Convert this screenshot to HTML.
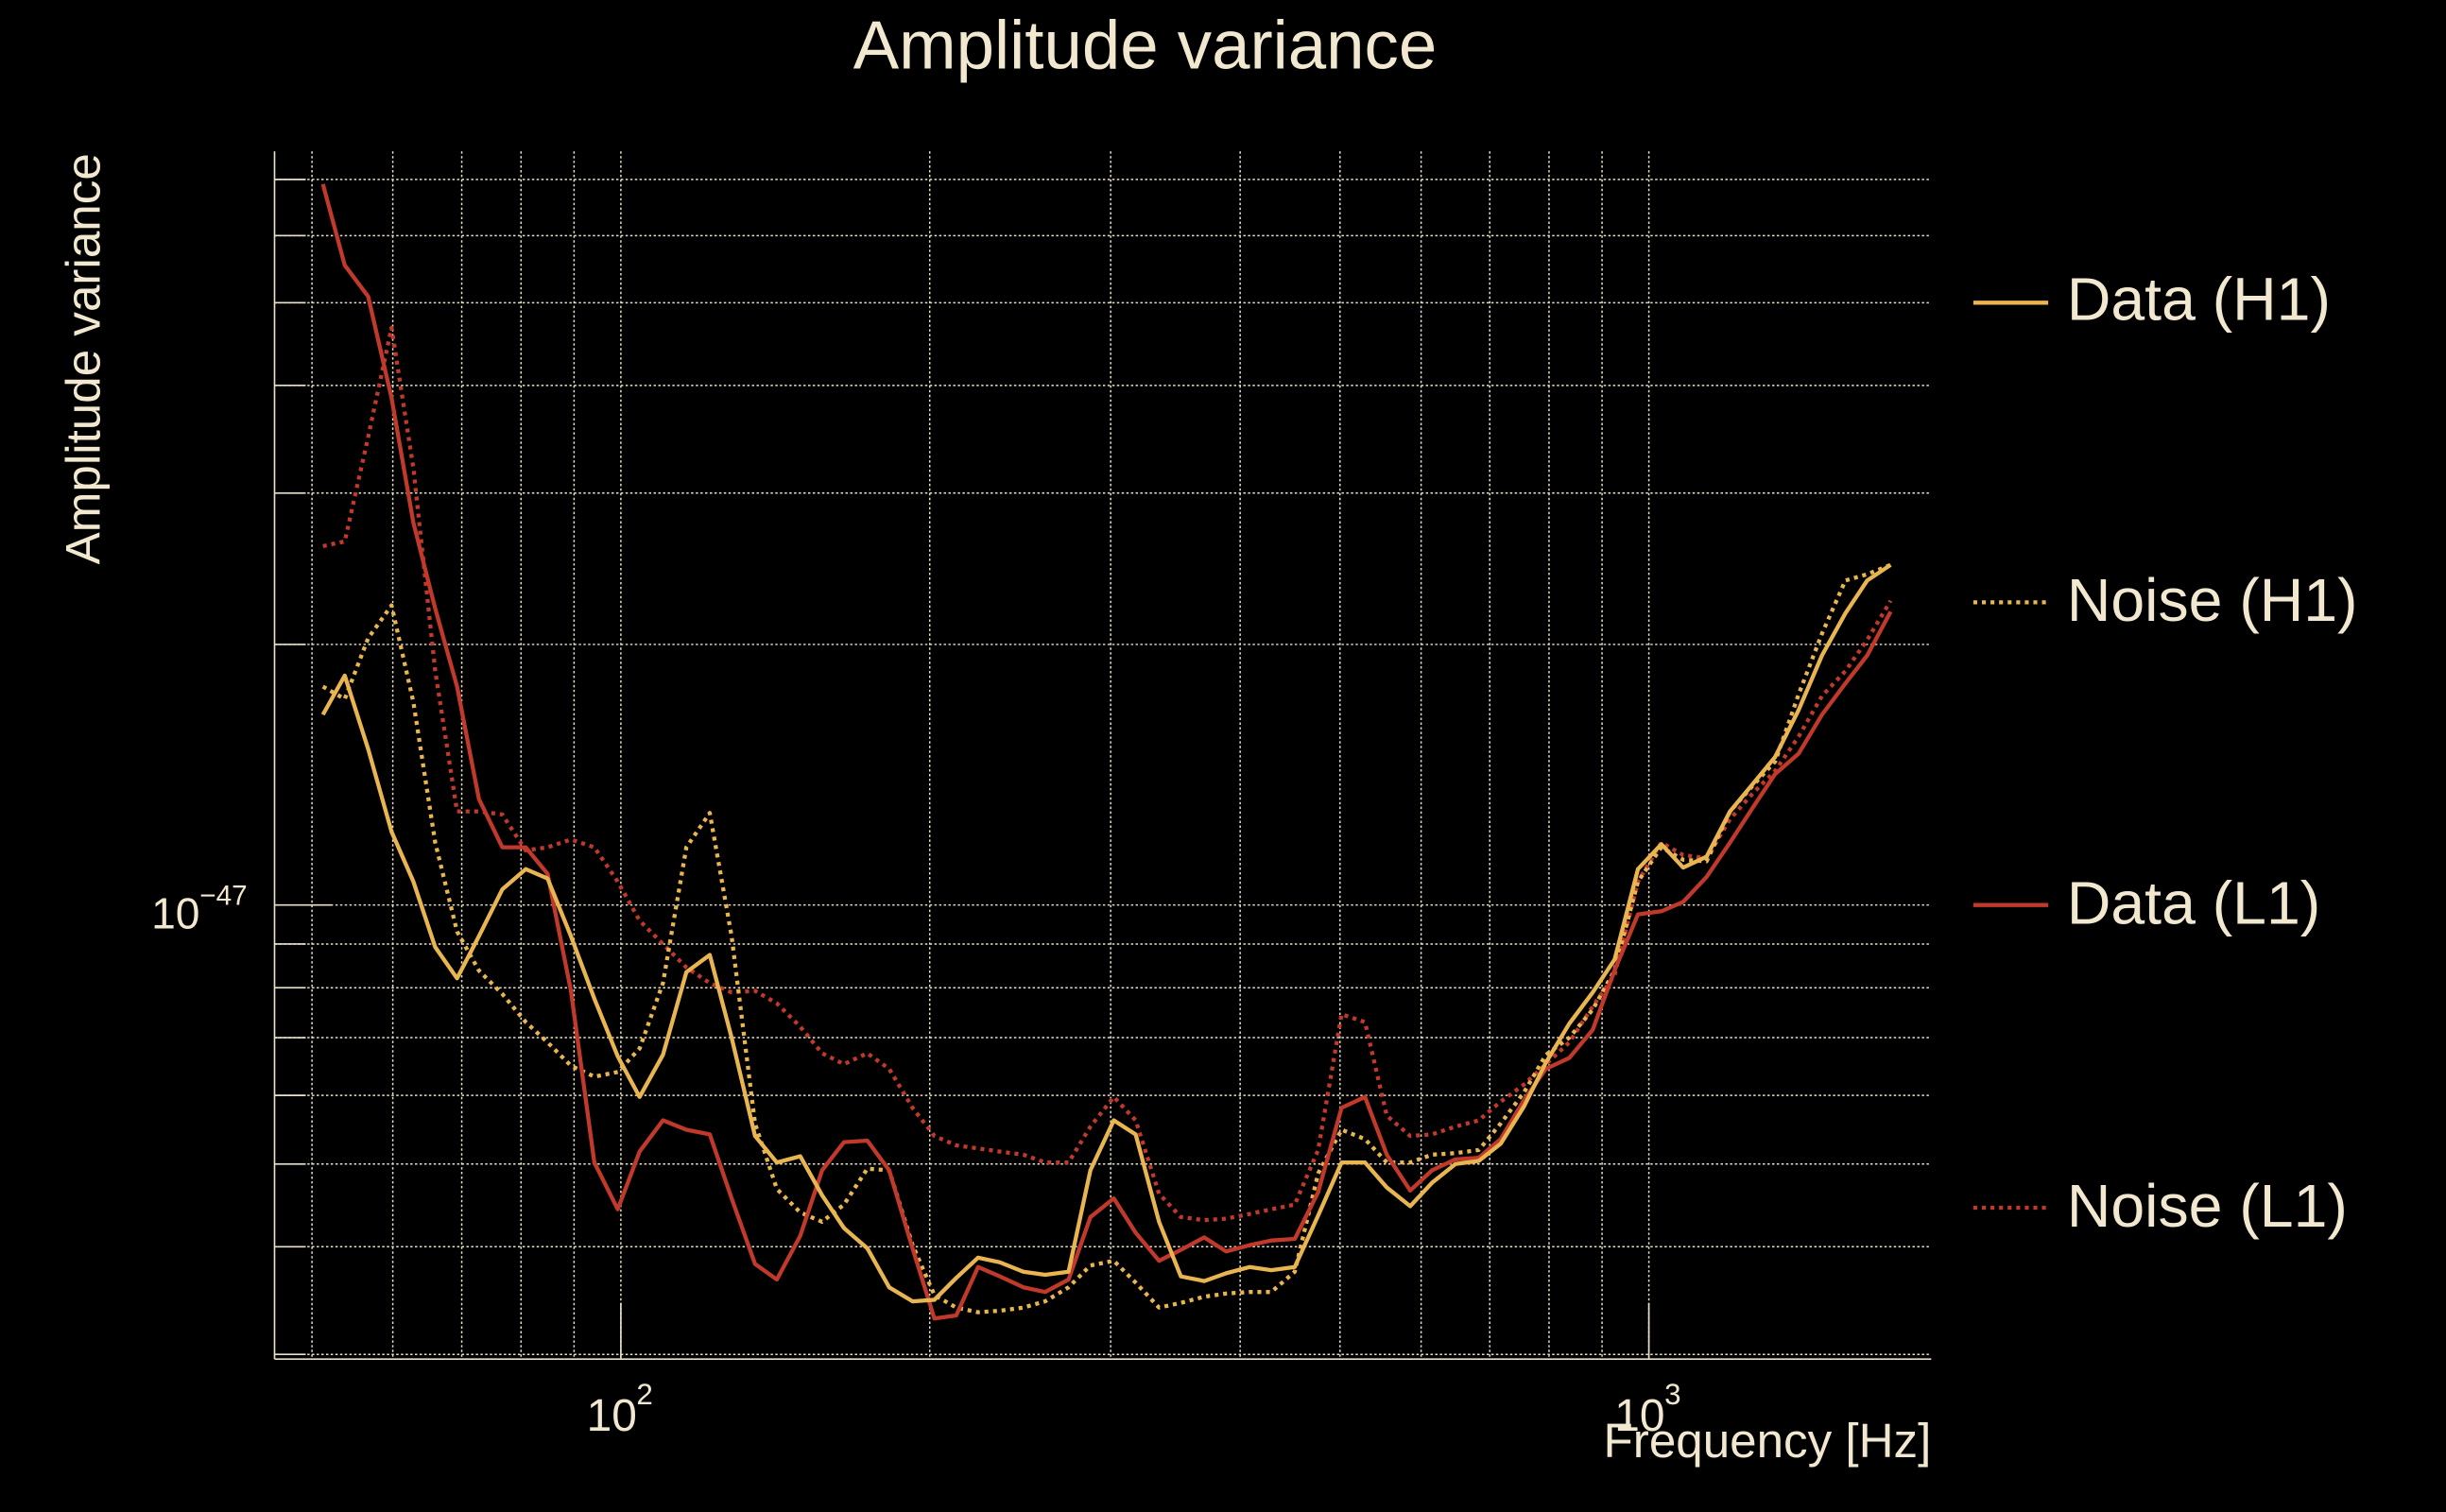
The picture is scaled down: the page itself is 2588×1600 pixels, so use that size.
<!DOCTYPE html>
<html><head><meta charset="utf-8"><style>
html,body{margin:0;padding:0;background:#000;}
svg{display:block;}
text{font-family:"Liberation Sans",sans-serif;fill:#f2e8cf;}
</style></head><body>
<svg width="2588" height="1600" viewBox="0 0 1568 969" preserveAspectRatio="none" xmlns="http://www.w3.org/2000/svg">
<rect width="1568" height="969" fill="#000"/>
<g stroke="#e8e0c8" stroke-width="0.9" stroke-dasharray="1.5,1.5" fill="none">
<line x1="200" y1="97" x2="200" y2="871"/><line x1="251.8" y1="97" x2="251.8" y2="871"/>
<line x1="296" y1="97" x2="296" y2="871"/><line x1="334" y1="97" x2="334" y2="871"/>
<line x1="368" y1="97" x2="368" y2="871"/><line x1="398" y1="97" x2="398" y2="871"/>
<line x1="596" y1="97" x2="596" y2="871"/><line x1="712" y1="97" x2="712" y2="871"/>
<line x1="795" y1="97" x2="795" y2="871"/><line x1="859" y1="97" x2="859" y2="871"/>
<line x1="911" y1="97" x2="911" y2="871"/><line x1="955" y1="97" x2="955" y2="871"/>
<line x1="993" y1="97" x2="993" y2="871"/><line x1="1027" y1="97" x2="1027" y2="871"/>
<line x1="1057" y1="97" x2="1057" y2="871"/>
<line x1="176" y1="115" x2="1238" y2="115"/><line x1="176" y1="151" x2="1238" y2="151"/>
<line x1="176" y1="194" x2="1238" y2="194"/><line x1="176" y1="247" x2="1238" y2="247"/>
<line x1="176" y1="316" x2="1238" y2="316"/><line x1="176" y1="413" x2="1238" y2="413"/>
<line x1="176" y1="580" x2="1238" y2="580"/><line x1="176" y1="605" x2="1238" y2="605"/>
<line x1="176" y1="633" x2="1238" y2="633"/><line x1="176" y1="665" x2="1238" y2="665"/>
<line x1="176" y1="702" x2="1238" y2="702"/><line x1="176" y1="746" x2="1238" y2="746"/>
<line x1="176" y1="799" x2="1238" y2="799"/><line x1="176" y1="868" x2="1238" y2="868"/>
</g>
<g stroke="#e8e0c8" stroke-width="1" fill="none">
<line x1="176" y1="97" x2="176" y2="871"/><line x1="176" y1="871" x2="1238" y2="871"/>
<line x1="176" y1="115" x2="196" y2="115"/><line x1="176" y1="151" x2="196" y2="151"/>
<line x1="176" y1="194" x2="196" y2="194"/><line x1="176" y1="247" x2="196" y2="247"/>
<line x1="176" y1="316" x2="196" y2="316"/><line x1="176" y1="413" x2="196" y2="413"/>
<line x1="176" y1="580" x2="213" y2="580"/><line x1="176" y1="605" x2="196" y2="605"/>
<line x1="176" y1="633" x2="196" y2="633"/><line x1="176" y1="665" x2="196" y2="665"/>
<line x1="176" y1="702" x2="196" y2="702"/><line x1="176" y1="746" x2="196" y2="746"/>
<line x1="176" y1="799" x2="196" y2="799"/><line x1="176" y1="868" x2="196" y2="868"/>
<line x1="398" y1="871" x2="398" y2="835"/><line x1="1057" y1="871" x2="1057" y2="835"/>
</g>
<g fill="none" stroke-width="2.6" stroke-linejoin="round">
<polyline stroke="#c0392b" stroke-dasharray="2.5,3" points="207,350 221,347 236,280 251,210 265,300 279,430 293,520 307,520 322,522 337,545 351,543 366,538 381,543 396,565 410,590 425,605 440,620 455,630 469,636 484,635 498,643 513,658 527,675 541,682 556,675 570,685 585,710 599,728 613,734 627,736 641,738 656,740 670,745 685,745 699,722 714,703 728,718 743,765 757,780 772,782 786,781 801,778 815,775 830,772 845,737 860,650 875,655 889,715 904,728 918,727 933,722 948,718 962,706 977,695 991,682 1006,668 1021,645 1035,625 1050,565 1065,540 1079,548 1094,550 1109,525 1124,508 1138,494 1153,472 1168,446 1183,430 1197,410 1212,385"/>
<polyline stroke="#e8b550" stroke-dasharray="2.5,3" points="207,440 221,448 236,409 251,388 265,450 279,540 293,597 307,622 322,637 337,655 351,668 366,683 381,690 396,687 410,672 425,630 440,543 455,521 469,600 484,720 498,762 513,777 527,783 541,772 556,749 570,750 585,798 599,830 613,838 627,841 641,840 656,838 670,834 685,825 699,811 714,808 728,822 743,838 757,835 772,831 786,829 801,828 815,828 830,815 845,752 860,724 875,730 889,745 904,745 918,740 933,739 948,737 962,720 977,700 991,676 1006,665 1021,647 1035,622 1050,565 1065,543 1079,551 1094,552 1109,520 1124,503 1138,488 1153,445 1168,406 1183,372 1197,368 1212,362"/>
<polyline stroke="#c0392b" points="207,118 221,170 236,190 251,255 265,335 279,390 293,440 307,512 322,543 337,543 351,560 366,635 381,745 396,775 410,738 425,718 440,724 455,727 469,768 484,810 498,820 513,792 527,750 541,732 556,731 570,750 585,800 599,845 613,843 627,812 641,818 656,825 670,828 685,820 699,780 714,768 728,790 743,808 757,801 772,793 786,802 801,798 815,795 830,794 845,764 860,710 875,703 889,740 904,763 918,750 933,743 948,742 962,730 977,705 991,685 1006,678 1021,660 1035,622 1050,586 1065,584 1079,578 1094,562 1109,540 1124,517 1138,496 1153,483 1168,458 1183,438 1197,420 1212,392"/>
<polyline stroke="#e8b550" points="207,458 221,433 236,480 251,533 265,565 279,607 293,627 307,600 322,570 337,557 351,563 366,600 381,640 396,677 410,703 425,676 440,623 455,612 469,665 484,728 498,745 513,741 527,766 541,787 556,800 570,825 585,834 599,833 613,819 627,806 641,809 656,815 670,817 685,815 699,750 714,718 728,727 743,783 757,818 772,821 786,816 801,812 815,814 830,812 845,779 860,745 875,745 889,761 904,773 918,758 933,746 948,744 962,733 977,709 991,681 1006,656 1021,636 1035,615 1050,557 1065,541 1079,556 1094,549 1109,520 1124,502 1138,485 1153,455 1168,420 1183,393 1197,372 1212,362"/>
</g>
<text x="734" y="44" font-size="44" text-anchor="middle">Amplitude variance</text>
<text transform="translate(64,230) rotate(-90)" font-size="31" text-anchor="middle">Amplitude variance</text>
<text x="1238" y="934" font-size="31" text-anchor="end">Frequency [Hz]</text>
<text x="376" y="917" font-size="29">10</text><text x="408" y="900" font-size="19">2</text>
<text x="1035" y="917" font-size="29">10</text><text x="1067" y="900" font-size="19">3</text>
<text x="97" y="595" font-size="28">10</text><text x="128" y="580" font-size="18">−47</text>
<g stroke-width="2.6">
<line x1="1265" y1="194" x2="1313" y2="194" stroke="#e8b550"/>
<line x1="1265" y1="386" x2="1313" y2="386" stroke="#e8b550" stroke-dasharray="2.5,3"/>
<line x1="1265" y1="580" x2="1313" y2="580" stroke="#c0392b"/>
<line x1="1265" y1="774" x2="1313" y2="774" stroke="#c0392b" stroke-dasharray="2.5,3"/>
</g>
<g font-size="39">
<text x="1325" y="205">Data (H1)</text>
<text x="1325" y="398">Noise (H1)</text>
<text x="1325" y="592">Data (L1)</text>
<text x="1325" y="786">Noise (L1)</text>
</g>
</svg>
</body></html>
